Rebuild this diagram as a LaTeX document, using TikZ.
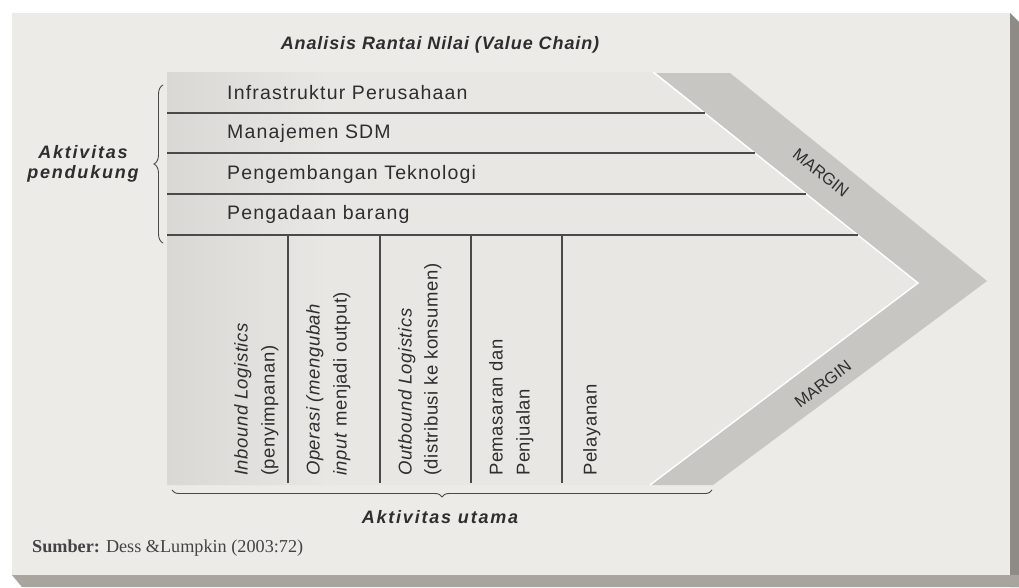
\documentclass[tikz,border=0pt]{standalone}
\usepackage{fontspec}
\setmainfont{Liberation Serif}
\setsansfont{Liberation Sans}
\newfontfamily\rowfont[LetterSpace=6]{Liberation Sans}
\newfontfamily\colfont[LetterSpace=3]{Liberation Sans}
\newfontfamily\labfont[LetterSpace=10]{Liberation Sans}
\newfontfamily\titfont[LetterSpace=5]{Liberation Sans}
\usetikzlibrary{decorations.pathreplacing,calc}
\definecolor{paper}{HTML}{ECEBE8}
\definecolor{panel}{HTML}{E8E7E4}
\definecolor{panelL}{HTML}{DAD8D4}
\definecolor{band}{HTML}{C8C6C2}
\definecolor{shadowB}{HTML}{A8A49E}
\definecolor{shadowR}{HTML}{8E8B87}
\definecolor{ink}{HTML}{2E2E2E}
\definecolor{linec}{HTML}{4A4A4A}
\begin{document}
\begin{tikzpicture}[x=1pt,y=-1pt,
  rowtext/.style={anchor=west, text=ink, font=\rowfont\fontsize{19.5}{22}\selectfont, inner sep=0pt},
  coltext/.style={rotate=90, anchor=west, text=ink, font=\colfont\fontsize{18.5}{20}\selectfont, inner sep=0pt, text height=13pt, text depth=4pt},
  divider/.style={draw=linec, line width=1.1pt},
  lab/.style={font=\labfont\fontsize{18}{22}\selectfont\bfseries\itshape, text=ink, align=center},
  bracec/.style={draw=linec, line width=0.9pt, decorate, decoration={brace, amplitude=7pt}},
  marg/.style={font=\sffamily\fontsize{16.5}{17}\selectfont, text=ink, inner sep=0pt}
]
\useasboundingbox (0,0) rectangle (1019,587);
\fill[white] (0,0) rectangle (1019,587);
% card and shadow
\fill[shadowR] (1010,13) -- (1019,22) -- (1019,587) -- (1010,587) -- cycle;
\fill[shadowB] (12,575) -- (1019,575) -- (1019,587) -- (22,587) -- cycle;
\fill[paper] (12,13) rectangle (1010,575);

% panel (chevron)
\coordinate (pTL) at (167,72);
\coordinate (pTR) at (653,72);
\coordinate (pTip) at (918,283);
\coordinate (pBR) at (650,485);
\coordinate (pBL) at (167,485);
% margin band
\coordinate (bTL) at (656,73);
\coordinate (bTR) at (730,73);
\coordinate (bTip) at (987,281);
\coordinate (bBR) at (713,485);
\fill[band] (bTL) -- (bTR) -- (bTip) -- (bBR) -- (pBR) -- (pTip) -- cycle;
\fill[panel] (pTL) -- (pTR) -- (pTip) -- (pBR) -- (pBL) -- cycle;
\begin{scope}
  \clip (pTL) -- (pTR) -- (pTip) -- (pBR) -- (pBL) -- cycle;
  \shade[left color=panelL, right color=panel] (167,72) rectangle (330,485);
\end{scope}
\draw[white, line width=1.4pt] (pTR) -- (pTip) -- (pBR);

% title
\node[font=\titfont\fontsize{18}{22}\selectfont\bfseries\itshape, text=ink] (title) at (440,45) {Analisis Rantai Nilai (Value Chain)};

% support activities
\node[rowtext] (r1) at (227,93) {Infrastruktur Perusahaan};
\node[rowtext] (r2) at (227,133) {Manajemen SDM};
\node[rowtext] (r3) at (227,174) {Pengembangan Teknologi};
\node[rowtext] (r4) at (227,214) {Pengadaan barang};

\coordinate (h1a) at (167,113); \coordinate (h1b) at (704.5,113);
\coordinate (h2a) at (167,153); \coordinate (h2b) at (754.7,153);
\coordinate (h3a) at (167,194); \coordinate (h3b) at (806.2,194);
\coordinate (h4a) at (167,235); \coordinate (h4b) at (857.7,235);
\draw[divider] (h1a) -- (h1b);
\draw[divider] (h2a) -- (h2b);
\draw[divider] (h3a) -- (h3b);
\draw[divider] (h4a) -- (h4b);

% primary columns
\foreach \x [count=\i] in {288,380,471,562} {
  \coordinate (v\i a) at (\x,235);
  \coordinate (v\i b) at (\x,483);
  \draw[divider] (v\i a) -- (v\i b);
}

\node[coltext] (c1a) at (243,476) {\itshape Inbound Logistics};
\node[coltext] (c1b) at (270,476) {(penyimpanan)};
\node[coltext] (c2a) at (315,476) {\itshape Operasi (mengubah};
\node[coltext] (c2b) at (342,476) {\textit{input} menjadi output)};
\node[coltext] (c3a) at (407,476) {\itshape Outbound Logistics};
\node[coltext] (c3b) at (433,476) {(distribusi ke konsumen)};
\node[coltext] (c4a) at (498,476) {Pemasaran dan};
\node[coltext] (c4b) at (525,476) {Penjualan};
\node[coltext] (c5) at (592,476) {Pelayanan};

% margin labels
\node[marg, rotate=-38.5] (m1) at (821,173) {MARGIN};
\node[marg, rotate=37.3] (m2) at (823,384) {MARGIN};

% braces
\coordinate (lbB) at (163,243);
\coordinate (lbT) at (163,85);
\draw[bracec, decoration={amplitude=9pt}] (lbB) -- (lbT);
\node[lab] (sup) at (83,164) {Aktivitas\\[-2pt]pendukung};

\coordinate (bbR) at (712,490);
\coordinate (bbL) at (172,490);
\draw[bracec] (bbR) -- (bbL);
\node[lab] (prim) at (440,517) {Aktivitas utama};

% source
\node[anchor=west, font=\fontsize{18.2}{20}\selectfont, text=ink!90, inner sep=0pt] (src) at (32,548) {\textbf{Sumber:} Dess \&Lumpkin (2003:72)};
\end{tikzpicture}
\end{document}
